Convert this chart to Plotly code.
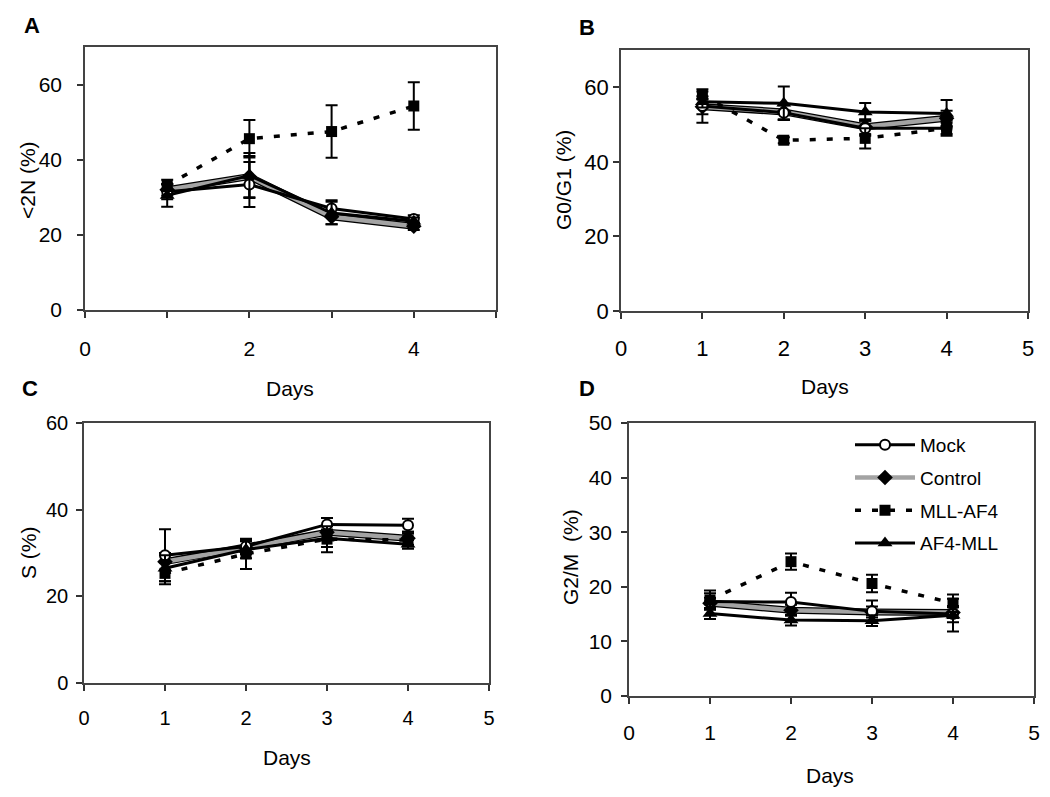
import plotly.graph_objects as go

days = [1, 2, 3, 4]
series_names = ["Mock", "Control", "MLL-AF4", "AF4-MLL"]

# Panel A: <2N (%)
a_mock = [31.5, 33.4, 27.0, 24.2]
a_mock_err = [2.0, 6.0, 2.2, 1.0]
a_control = [32.0, 35.5, 24.8, 22.3]
a_control_err = [1.5, 5.5, 2.0, 1.0]
a_mllaf4 = [33.2, 45.6, 47.5, 54.3]
a_mllaf4_err = [1.5, 5.0, 7.0, 6.3]
a_af4mll = [30.5, 35.8, 25.8, 23.6]
a_af4mll_err = [3.0, 6.0, 3.0, 1.0]

# Panel B: G0/G1 (%)
b_mock = [55.0, 53.2, 49.0, 49.0]
b_mock_err = [4.5, 2.0, 2.0, 2.0]
b_control = [54.8, 53.4, 49.4, 51.7]
b_control_err = [2.0, 2.0, 2.0, 2.0]
b_mllaf4 = [57.9, 45.8, 46.3, 49.0]
b_mllaf4_err = [1.0, 0.8, 2.7, 1.5]
b_af4mll = [56.1, 55.7, 53.4, 53.0]
b_af4mll_err = [1.5, 4.5, 2.4, 3.6]

# Panel C: S (%)
c_mock = [29.5, 31.5, 36.6, 36.4]
c_mock_err = [6.0, 1.5, 1.5, 1.5]
c_control = [28.0, 31.2, 34.8, 33.4]
c_control_err = [2.0, 1.5, 1.5, 1.5]
c_mllaf4 = [25.3, 29.8, 33.2, 33.0]
c_mllaf4_err = [2.5, 3.5, 3.0, 1.5]
c_af4mll = [26.5, 30.8, 33.4, 32.0]
c_af4mll_err = [3.0, 2.0, 2.0, 1.0]

# Panel D: G2/M (%)
d_mock = [17.3, 17.2, 15.5, 15.0]
d_mock_err = [1.5, 1.7, 2.0, 1.5]
d_control = [17.0, 15.7, 15.4, 15.3]
d_control_err = [1.0, 1.0, 1.0, 1.0]
d_mllaf4 = [17.6, 24.6, 20.6, 17.0]
d_mllaf4_err = [1.7, 1.5, 1.6, 1.6]
d_af4mll = [15.1, 13.9, 13.8, 14.8]
d_af4mll_err = [1.0, 1.0, 1.0, 3.0]

panel_letters = ["A", "B", "C", "D"]
y_titles = ["<2N (%)", "G0/G1 (%)", "S (%)", "G2/M  (%)"]
x_title = "Days"

# page body has an 8px margin; size the figure to fit the 1050x797 window
OFF = 8
W, H = 1050 - OFF, 797 - OFF
FONT = "Liberation Sans, Arial, sans-serif"

fig = go.Figure()

def px_x(p):
    return (p - OFF) / W

def px_y(p):
    return 1 - (p - OFF) / H

panels = [
    dict(xa="x", ya="y", data=[(a_mock, a_mock_err), (a_control, a_control_err), (a_mllaf4, a_mllaf4_err), (a_af4mll, a_af4mll_err)]),
    dict(xa="x2", ya="y2", data=[(b_mock, b_mock_err), (b_control, b_control_err), (b_mllaf4, b_mllaf4_err), (b_af4mll, b_af4mll_err)]),
    dict(xa="x3", ya="y3", data=[(c_mock, c_mock_err), (c_control, c_control_err), (c_mllaf4, c_mllaf4_err), (c_af4mll, c_af4mll_err)]),
    dict(xa="x4", ya="y4", data=[(d_mock, d_mock_err), (d_control, d_control_err), (d_mllaf4, d_mllaf4_err), (d_af4mll, d_af4mll_err)]),
]

for pi, p in enumerate(panels):
    (mock, mock_e), (ctrl, ctrl_e), (mll, mll_e), (af4, af4_e) = p["data"]
    show = (pi == 3)
    eb = lambda e: dict(type="data", array=e, visible=True, color="black", thickness=2, width=6)
    # Control: black underlay + gray hatched-looking band
    fig.add_trace(go.Scatter(x=days, y=ctrl, mode="lines", xaxis=p["xa"], yaxis=p["ya"],
                             line=dict(color="black", width=7), showlegend=False, hoverinfo="skip"))
    fig.add_trace(go.Scatter(x=days, y=ctrl, mode="lines+markers", name=series_names[1],
                             xaxis=p["xa"], yaxis=p["ya"], legendgroup="g2", legendrank=2,
                             line=dict(color="#a3a3a3", width=4.5),
                             marker=dict(symbol="diamond", size=12, color="black"),
                             error_y=eb(ctrl_e), showlegend=show))
    fig.add_trace(go.Scatter(x=days, y=mock, mode="lines+markers", name=series_names[0],
                             xaxis=p["xa"], yaxis=p["ya"], legendgroup="g1", legendrank=1,
                             line=dict(color="black", width=3),
                             marker=dict(symbol="circle", size=10, color="white", line=dict(color="black", width=2)),
                             error_y=eb(mock_e), showlegend=show))
    fig.add_trace(go.Scatter(x=days, y=af4, mode="lines+markers", name=series_names[3],
                             xaxis=p["xa"], yaxis=p["ya"], legendgroup="g4", legendrank=4,
                             line=dict(color="black", width=3),
                             marker=dict(symbol="triangle-up", size=13, color="black"),
                             error_y=eb(af4_e), showlegend=show))
    fig.add_trace(go.Scatter(x=days, y=mll, mode="lines+markers", name=series_names[2],
                             xaxis=p["xa"], yaxis=p["ya"], legendgroup="g3", legendrank=3,
                             line=dict(color="black", width=3.5, dash="6px,11px"),
                             marker=dict(symbol="square", size=11, color="black"),
                             error_y=eb(mll_e), showlegend=show))

# domains in window pixels: (x0, x1, ytop, ybottom)
doms = [(85, 496, 47, 310), (621, 1028, 50, 311), (84, 489, 423, 683), (629, 1034, 423, 696)]
yranges = [[0, 70], [0, 70], [0, 60], [0, 50]]
ytickvals = [[0, 20, 40, 60], [0, 20, 40, 60], [0, 20, 40, 60], [0, 10, 20, 30, 40, 50]]
xtickvals = [0, 1, 2, 3, 4, 5]
xticktexts = [["0", "", "2", "", "4", ""], ["0", "1", "2", "3", "4", "5"],
              ["0", "1", "2", "3", "4", "5"], ["0", "1", "2", "3", "4", "5"]]
tickfs = [21, 22, 20, 21]
xstand = [13, 11, 10, 11]
ystand = [11, 0, 4, 5]

layout = {}
for i, (x0, x1, yt, yb) in enumerate(doms):
    sfx = "" if i == 0 else str(i + 1)
    layout["xaxis" + sfx] = dict(
        domain=[px_x(x0), px_x(x1)], anchor="y" + sfx, range=[0, 5],
        tickvals=xtickvals, ticktext=xticktexts[i], ticks="outside", ticklen=6,
        tickcolor="#333", tickwidth=1.5, showline=True, linecolor="#444", linewidth=1.5,
        mirror=True, showgrid=False, zeroline=False, ticklabelstandoff=xstand[i],
        tickfont=dict(family=FONT, size=tickfs[i], color="black"), fixedrange=True)
    layout["yaxis" + sfx] = dict(
        domain=[px_y(yb), px_y(yt)], anchor="x" + sfx, range=yranges[i],
        tickvals=ytickvals[i], ticks="outside", ticklen=6,
        tickcolor="#333", tickwidth=1.5, showline=True, linecolor="#444", linewidth=1.5,
        mirror=True, showgrid=False, zeroline=False, ticklabelstandoff=ystand[i],
        tickfont=dict(family=FONT, size=tickfs[i], color="black"), fixedrange=True)

annotations = []
# panel letters
letter_pos = [(32, 25), (587, 27), (30, 388), (587, 388)]
for (lx, ly), t in zip(letter_pos, panel_letters):
    annotations.append(dict(text="<b>%s</b>" % t, x=px_x(lx), y=px_y(ly), xref="paper", yref="paper",
                            showarrow=False, xanchor="center", yanchor="middle",
                            font=dict(family=FONT, size=22, color="black")))
# x titles
xt_pos = [(290, 388), (825, 387), (287, 757), (830, 775)]
for (tx, ty) in xt_pos:
    annotations.append(dict(text=x_title, x=px_x(tx), y=px_y(ty), xref="paper", yref="paper",
                            showarrow=False, xanchor="center", yanchor="middle",
                            font=dict(family=FONT, size=21, color="black")))
# y titles
yt_pos = [(27, 180), (563, 180), (28, 553), (570, 557)]
for (tx, ty), t in zip(yt_pos, y_titles):
    annotations.append(dict(text=t, x=px_x(tx), y=px_y(ty), xref="paper", yref="paper",
                            showarrow=False, xanchor="center", yanchor="middle", textangle=-90,
                            font=dict(family=FONT, size=21, color="black")))

fig.update_layout(
    width=W, height=H, margin=dict(l=0, r=0, t=0, b=0, autoexpand=False),
    paper_bgcolor="white", plot_bgcolor="white",
    showlegend=True,
    legend=dict(x=px_x(850), y=px_y(426), xanchor="left", yanchor="top",
                bgcolor="rgba(0,0,0,0)", itemwidth=60, traceorder="grouped", tracegroupgap=5,
                font=dict(family=FONT, size=19, color="black")),
    annotations=annotations,
    **layout,
)

fig.write_html("out.html")
